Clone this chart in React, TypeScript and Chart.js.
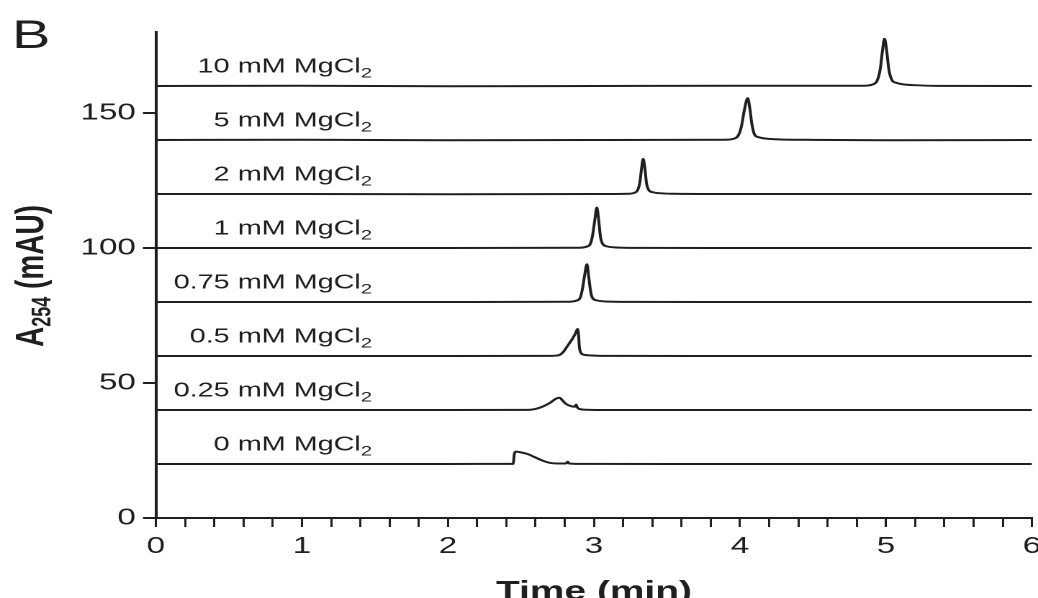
import React, { useEffect, useRef } from 'react';
import { Chart, registerables } from 'chart.js';

Chart.register(...registerables);

// The reference figure is stretched horizontally; the chart is drawn on a
// narrower logical canvas and stretched with CSS to the same proportions.
const OUT_W = 1038;
const LOGICAL_W = 721;
const H = 598;
const STRETCH = OUT_W / LOGICAL_W;

const FONT = "'Liberation Sans', Arial, Helvetica, sans-serif";
const INK = '#1f1f1f';

// ---- data ----
const concentrations = ['0', '0.25', '0.5', '0.75', '1', '2', '5', '10'];
const baselines = [20, 40, 60, 80, 100, 120, 140, 160];

const trace0mM: [number, number][] = [
  [0, 20], [1, 20], [2, 20], [2.44, 20.05], [2.447, 20.1], [2.455, 23.8], [2.465, 24.6],
  [2.5, 24.3], [2.55, 23.6], [2.6, 22.4], [2.65, 21.2], [2.7, 20.4], [2.75, 20.2],
  [2.81, 20.2], [2.82, 20.9], [2.83, 20.2], [2.9, 20.05], [3.5, 20], [4, 20], [5, 20], [6, 20],
];
const trace025mM: [number, number][] = [
  [0, 40], [1, 40], [2, 40], [2.55, 40.05], [2.6, 40.4], [2.65, 41.3], [2.7, 42.7],
  [2.74, 44.2], [2.765, 44.6], [2.78, 43.8], [2.81, 42.2], [2.85, 41.3], [2.87, 41.2],
  [2.878, 42], [2.885, 41], [2.9, 40.4], [2.95, 40.1], [3.1, 40], [4, 40], [5, 40], [6, 40],
];
const trace05mM: [number, number][] = [
  [0, 60], [1, 60], [2, 60], [2.7, 60.05], [2.76, 60.3], [2.79, 61.5], [2.82, 63.8],
  [2.85, 66.2], [2.87, 68], [2.888, 70], [2.895, 67.5], [2.9, 63.5], [2.91, 61.2],
  [2.93, 60.5], [2.98, 60.2], [3.1, 60.05], [4, 60], [5, 60], [6, 60],
];
const trace075mM: [number, number][] = [
  [0, 80], [1, 80], [2, 80], [2.83, 80.1], [2.88, 80.5], [2.905, 81.5], [2.92, 84.5],
  [2.935, 89.5], [2.952, 94], [2.965, 89], [2.977, 84], [2.99, 81.5], [3.02, 80.6],
  [3.08, 80.2], [3.25, 80.05], [4, 80], [5, 80], [6, 80],
];
const trace1mM: [number, number][] = [
  [0, 100], [1, 100], [2, 100], [2.9, 100.1], [2.95, 100.5], [2.975, 101.5], [2.99, 104.5],
  [3.005, 110], [3.02, 115], [3.033, 110], [3.045, 104], [3.06, 101.5], [3.09, 100.6],
  [3.15, 100.2], [3.3, 100.05], [4, 100], [5, 100], [6, 100],
];
const trace2mM: [number, number][] = [
  [0, 120], [1, 120], [2, 119.9], [3, 120], [3.24, 120.1], [3.28, 120.5], [3.3, 121.5],
  [3.315, 124.5], [3.325, 129], [3.337, 133], [3.35, 129], [3.36, 124], [3.375, 121.5],
  [3.4, 120.7], [3.45, 120.3], [3.55, 120.1], [4, 120], [5, 120], [6, 120],
];
const trace5mM: [number, number][] = [
  [0, 140], [1, 140.1], [2, 139.9], [3, 140], [3.9, 140.1], [3.96, 140.5], [3.99, 141.8],
  [4.01, 145], [4.03, 151], [4.053, 155.5], [4.068, 151.5], [4.083, 145.5], [4.1, 142],
  [4.13, 141], [4.18, 140.5], [4.28, 140.2], [4.5, 140.05], [5, 139.9], [6, 140],
];
const trace10mM: [number, number][] = [
  [0, 160], [1, 160.1], [2, 159.9], [3, 160], [4, 160.1], [4.85, 160.1], [4.91, 160.6],
  [4.94, 162], [4.96, 166], [4.975, 172.5], [4.99, 177.5], [5.005, 173], [5.02, 166],
  [5.04, 162.3], [5.07, 161.2], [5.12, 160.6], [5.2, 160.3], [5.35, 160.05], [6, 160],
];
const traces = [trace0mM, trace025mM, trace05mM, trace075mM, trace1mM, trace2mM, trace5mM, trace10mM];

const xMin = 0;
const xMax = 6;
const xStep = 0.2;
const yMin = 0;
const yMax = 180;
const yStep = 50;
const labelEndTime = 1.48;
const labelLift = 5;

const annotationPlugin = {
  id: 'traceAnnotations',
  afterDatasetsDraw(chart: any) {
    const { ctx } = chart;
    const x = chart.scales.x;
    const y = chart.scales.y;
    ctx.save();
    ctx.fillStyle = INK;
    ctx.textAlign = 'left';
    ctx.textBaseline = 'alphabetic';
    concentrations.forEach((c, i) => {
      const xr = x.getPixelForValue(labelEndTime);
      const yb = y.getPixelForValue(baselines[i] + labelLift);
      const main = `${c} mM MgCl`;
      ctx.font = `20px ${FONT}`;
      const w1 = ctx.measureText(main).width;
      ctx.font = `14px ${FONT}`;
      const w2 = ctx.measureText('2').width;
      ctx.font = `20px ${FONT}`;
      ctx.fillText(main, xr - w2 - w1, yb);
      ctx.font = `14px ${FONT}`;
      ctx.fillText('2', xr - w2, yb + 5);
    });

    // panel letter
    ctx.font = `40px ${FONT}`;
    ctx.fillText('B', 8.3, 48);

    // y-axis title with subscript
    ctx.translate(30, 347);
    ctx.rotate(-Math.PI / 2);
    ctx.font = `bold 28px ${FONT}`;
    const wa = ctx.measureText('A').width;
    ctx.fillText('A', 0, 0);
    ctx.font = `bold 18px ${FONT}`;
    const ws = ctx.measureText('254').width;
    ctx.fillText('254', wa, 5);
    ctx.font = `bold 28px ${FONT}`;
    ctx.fillText(' (mAU)', wa + ws, 0);
    ctx.restore();
  },
};

export default function App() {
  const canvasRef = useRef<HTMLCanvasElement | null>(null);

  useEffect(() => {
    const canvas = canvasRef.current;
    if (!canvas) return;
    const chart = new Chart(canvas, {
      type: 'line',
      data: {
        datasets: traces.map((t, i) => ({
          label: `${concentrations[i]} mM MgCl2`,
          data: t.map(([tx, v]) => ({ x: tx, y: v })),
          borderColor: INK,
          borderWidth: 2,
          pointRadius: 0,
          fill: false,
          cubicInterpolationMode: 'monotone' as const,
        })),
      },
      options: {
        responsive: false,
        animation: false,
        devicePixelRatio: 2,
        events: [],
        layout: { padding: { top: 32, right: 4.2, bottom: 0, left: 0 } },
        plugins: {
          legend: { display: false },
          tooltip: { enabled: false },
          title: { display: false },
        },
        scales: {
          x: {
            type: 'linear',
            position: 'bottom',
            min: xMin,
            max: xMax,
            border: { display: true, color: INK, width: 2 },
            grid: { display: true, drawOnChartArea: false, drawTicks: true, tickLength: 9, color: INK, lineWidth: 1.5 },
            ticks: {
              stepSize: xStep,
              autoSkip: false,
              maxRotation: 0,
              padding: 6,
              color: INK,
              font: { family: FONT, size: 23 },
              callback: (v: any) => {
                const n = Number(v);
                return Math.abs(n - Math.round(n)) < 1e-6 ? String(Math.round(n)) : '';
              },
            },
            title: {
              display: true,
              text: 'Time (min)',
              color: INK,
              font: { family: FONT, size: 27, weight: 'bold', lineHeight: 0.8 },
              padding: { top: 0, bottom: -5 },
            },
            afterFit: (s: any) => {
              s.height = 80;
              s.paddingLeft = 0;
              s.paddingRight = 0;
            },
          },
          y: {
            type: 'linear',
            min: yMin,
            max: yMax,
            border: { display: true, color: INK, width: 2 },
            grid: { display: true, drawOnChartArea: false, drawTicks: true, tickLength: 9, color: INK, lineWidth: 2 },
            ticks: {
              stepSize: yStep,
              includeBounds: false,
              padding: 5,
              color: INK,
              font: { family: FONT, size: 23 },
            },
            afterFit: (s: any) => {
              s.width = 108.3;
              s.paddingTop = 0;
              s.paddingBottom = 0;
            },
          },
        },
      },
      plugins: [annotationPlugin],
    } as any);
    return () => chart.destroy();
  }, []);

  return (
    <div style={{ position: 'fixed', left: 0, top: 0, width: OUT_W, height: H, overflow: 'hidden', background: '#fff' }}>
      <div style={{ width: LOGICAL_W, height: H, transform: `scaleX(${STRETCH})`, transformOrigin: '0 0' }}>
        <canvas
          ref={canvasRef}
          width={LOGICAL_W}
          height={H}
          style={{ width: `${LOGICAL_W}px`, height: `${H}px`, display: 'block' }}
        />
      </div>
    </div>
  );
}
